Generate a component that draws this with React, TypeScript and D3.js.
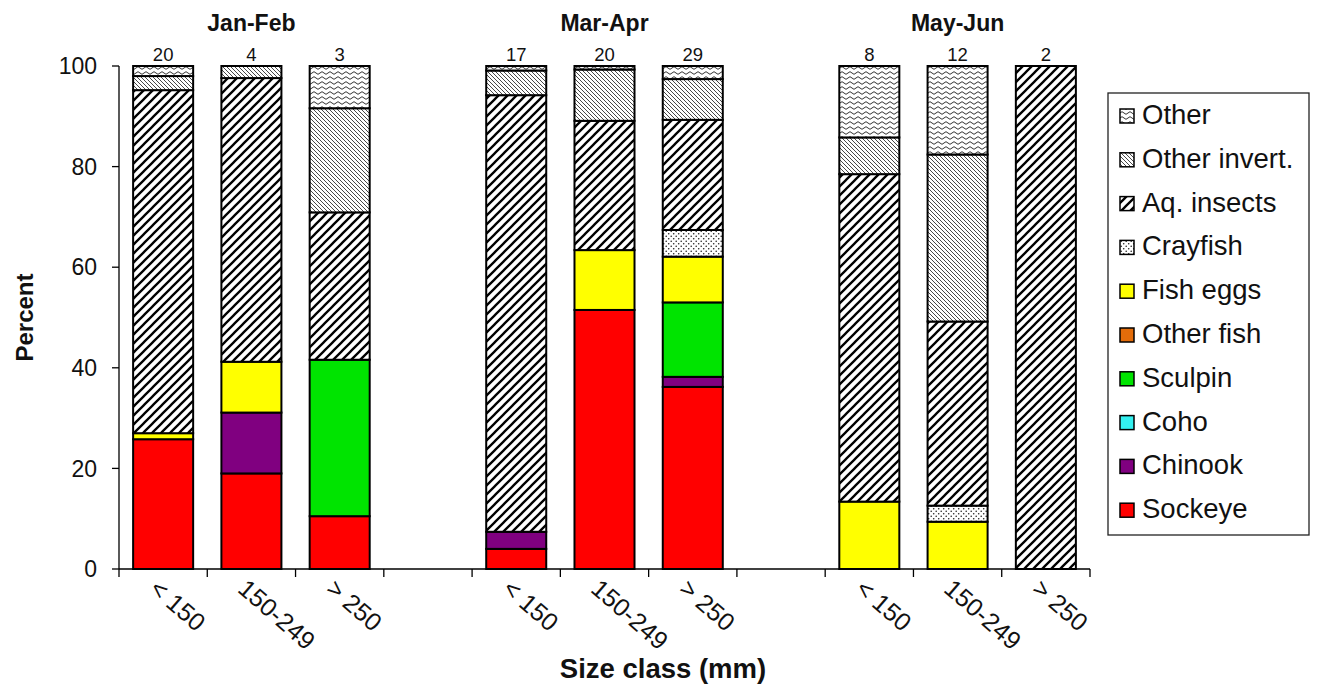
import React from "react";
import * as d3 from "d3";

const periods = ["Jan-Feb", "Mar-Apr", "May-Jun"];
const sizeClasses = ["< 150", "150-249", "> 250"];
const sampleSizes = [20, 4, 3, 17, 20, 29, 8, 12, 2];

// stacked bottom -> top
const preyTypes = ["Sockeye", "Chinook", "Coho", "Sculpin", "Other fish", "Fish eggs", "Crayfish", "Aq. insects", "Other invert.", "Other"];
const sockeye = [25.8, 19.0, 10.5, 4.0, 51.5, 36.2, 0, 0, 0];
const chinook = [0, 12.1, 0, 3.4, 0, 2.0, 0, 0, 0];
const coho = [0, 0, 0, 0, 0, 0, 0, 0, 0];
const sculpin = [0, 0, 31.1, 0, 0, 14.8, 0, 0, 0];
const otherFish = [0, 0, 0, 0, 0, 0, 0, 0, 0];
const fishEggs = [1.2, 10.1, 0, 0, 11.9, 9.1, 13.4, 9.4, 0];
const crayfish = [0, 0, 0, 0, 0, 5.3, 0, 3.2, 0];
const aqInsects = [68.2, 56.4, 29.3, 86.8, 25.7, 21.9, 65.1, 36.6, 100];
const otherInvert = [2.8, 2.4, 20.7, 4.9, 10.2, 8.1, 7.3, 33.2, 0];
const other = [2.0, 0, 8.4, 0.9, 0.7, 2.6, 14.2, 17.6, 0];

const seriesValues = [sockeye, chinook, coho, sculpin, otherFish, fishEggs, crayfish, aqInsects, otherInvert, other];
const yTicks = [0, 20, 40, 60, 80, 100];

const fills: Record<string, string> = {
  "Sockeye": "#FF0000",
  "Chinook": "#800080",
  "Coho": "#33F0F0",
  "Sculpin": "#00E400",
  "Other fish": "#E36C0A",
  "Fish eggs": "#FFFF00",
  "Crayfish": "url(#pCray)",
  "Aq. insects": "url(#pAq)",
  "Other invert.": "url(#pOI)",
  "Other": "url(#pOther)",
};

const FONT = "'Liberation Sans', Arial, sans-serif";

export default function App() {
  const W = 1320, H = 688;
  const left = 119, right = 1090, top = 66, bottom = 569;

  // slot keys incl. spacer between groups
  const slots: string[] = [];
  periods.forEach((p, i) => {
    sizeClasses.forEach((s) => slots.push(p + "|" + s));
    if (i < periods.length - 1) slots.push(p + "|gap");
  });
  const bars = periods.flatMap((p) => sizeClasses.map((s) => p + "|" + s));

  const x = d3.scaleBand<string>().domain(slots).range([left, right]).paddingInner(0.32).paddingOuter(0.16);
  const y = d3.scaleLinear().domain([0, 100]).range([bottom, top]);
  const step = x.step();
  const bw = x.bandwidth();

  const table = bars.map((key, i) => {
    const row: any = { key };
    preyTypes.forEach((t, j) => (row[t] = seriesValues[j][i]));
    return row;
  });
  const stacked = d3.stack<any>().keys(preyTypes)(table);

  const tickXs = slots.map((k) => (x(k) as number) + bw / 2 - step / 2).concat([right]);

  const legendX = 1108, legendY = 93, legendW = 201, legendH = 442;
  const legendOrder = [...preyTypes].reverse();

  return (
    <svg width={W} height={H} style={{ position: "absolute", left: 0, top: 0, background: "#fff" }} fontFamily={FONT}>
      <defs>
        <pattern id="pAq" patternUnits="userSpaceOnUse" width="9" height="9">
          <rect width="9" height="9" fill="#fff" />
          <path d="M-2,2 L2,-2 M0,9 L9,0 M7,11 L11,7" stroke="#000" strokeWidth="2.3" />
        </pattern>
        <pattern id="pOI" patternUnits="userSpaceOnUse" width="4" height="4">
          <rect width="4" height="4" fill="#fff" />
          <path d="M0,0 L4,4 M-1,3 L1,5 M3,-1 L5,1" stroke="#333" strokeWidth="0.9" />
        </pattern>
        <pattern id="pOther" patternUnits="userSpaceOnUse" width="8" height="5">
          <rect width="8" height="5" fill="#fff" />
          <path d="M0,3 Q2,0.4 4,3 T8,3" fill="none" stroke="#333" strokeWidth="1" />
        </pattern>
        <pattern id="pCray" patternUnits="userSpaceOnUse" width="5" height="5">
          <rect width="5" height="5" fill="#fff" />
          <circle cx="1.2" cy="1.2" r="0.8" fill="#222" />
          <circle cx="3.7" cy="3.7" r="0.8" fill="#222" />
        </pattern>
      </defs>

      {/* bars */}
      {stacked.map((layer) => (
        <g key={layer.key}>
          {layer.map((d, i) => {
            const h = y(d[0]) - y(d[1]);
            if (h <= 0.01) return null;
            return (
              <rect key={i} x={x(bars[i]) as number} y={y(d[1])} width={bw} height={h}
                fill={fills[layer.key]} stroke="#000" strokeWidth={2} />
            );
          })}
        </g>
      ))}

      {/* sample sizes */}
      {bars.map((k, i) => (
        <text key={k} x={(x(k) as number) + bw / 2} y={y(100) - 5} textAnchor="middle" fontSize={18.5} fill="#111">
          {sampleSizes[i]}
        </text>
      ))}

      {/* period titles */}
      {periods.map((p) => {
        const a = x(p + "|" + sizeClasses[0]) as number;
        const b = (x(p + "|" + sizeClasses[2]) as number) + bw;
        return (
          <text key={p} x={(a + b) / 2} y={31} textAnchor="middle" fontSize={23} fontWeight="bold" fill="#111">
            {p}
          </text>
        );
      })}

      {/* y axis */}
      <line x1={left} x2={left} y1={y(100)} y2={y(0)} stroke="#000" strokeWidth={1.3} />
      {yTicks.map((t) => (
        <g key={t}>
          <line x1={left - 7} x2={left} y1={y(t)} y2={y(t)} stroke="#000" strokeWidth={1.3} />
          <text x={left - 22} y={y(t)} dy="0.36em" textAnchor="end" fontSize={23} fill="#111">{t}</text>
        </g>
      ))}
      <text transform={`translate(33,${(y(0) + y(100)) / 2}) rotate(-90)`} textAnchor="middle" fontSize={24} fontWeight="bold" fill="#111">
        Percent
      </text>

      {/* x axis */}
      <line x1={left} x2={right} y1={y(0)} y2={y(0)} stroke="#000" strokeWidth={1.3} />
      {tickXs.map((tx, i) => (
        <line key={i} x1={tx} x2={tx} y1={y(0)} y2={y(0) + 8} stroke="#000" strokeWidth={1.3} />
      ))}
      {bars.map((k) => {
        const cx = (x(k) as number) + bw / 2;
        const label = k.split("|")[1];
        return (
          <text key={k} transform={`translate(${cx - 15},${y(0) + 22}) rotate(41)`} textAnchor="start" fontSize={25} fill="#111">
            {label}
          </text>
        );
      })}
      <text x={663} y={678} textAnchor="middle" fontSize={27.5} fontWeight="bold" fill="#111">Size class (mm)</text>

      {/* legend */}
      <rect x={legendX} y={legendY} width={legendW} height={legendH} fill="#fff" stroke="#222" strokeWidth={1.3} />
      {legendOrder.map((t, i) => {
        const by = 124 + i * 43.8;
        return (
          <g key={t}>
            <rect x={1120} y={by - 15} width={14} height={14} fill={fills[t]} stroke="#000" strokeWidth={1.5} />
            <text x={1142} y={by} fontSize={27.5} fill="#111">{t}</text>
          </g>
        );
      })}
    </svg>
  );
}
